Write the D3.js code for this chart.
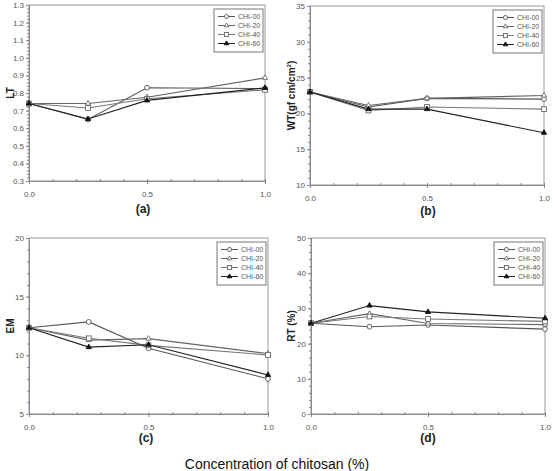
<!DOCTYPE html>
<html>
<head>
<meta charset="utf-8">
<script src="https://cdn.jsdelivr.net/npm/d3@7"></script>
<style>
    body { margin: 0; background: #fff; }
    svg { font-family: "Liberation Sans", Arial, sans-serif; }
    .axis path, .axis line { stroke: #888; }
    .axis text { fill: #555; font-size: 8px; }
</style>
</head>
<body>
<svg id="chart" width="554" height="471"></svg>
<script>
// concentration of chitosan (%)
const conc = [0.0, 0.25, 0.5, 1.0];
const seriesNames = ["CHI-00", "CHI-20", "CHI-40", "CHI-60"];
const markers = ["circle", "triangle", "square", "filled"];

// LT
const ltValues = [
    [0.74, 0.65, 0.83, 0.825],
    [0.74, 0.74, 0.776, 0.886],
    [0.74, 0.715, 0.767, 0.818],
    [0.74, 0.652, 0.758, 0.829]
];
// WT (gf cm/cm2)
const wtValues = [
    [23.0, 20.9, 22.1, 22.0],
    [23.0, 21.1, 22.1, 22.5],
    [23.0, 20.4, 20.9, 20.6],
    [23.0, 20.6, 20.6, 17.3]
];
// EM
const emValues = [
    [12.35, 12.85, 10.6, 8.0],
    [12.35, 11.3, 11.42, 10.15],
    [12.35, 11.45, 10.85, 10.03],
    [12.35, 10.7, 10.9, 8.33]
];
// RT (%)
const rtValues = [
    [25.8, 24.8, 25.3, 24.1],
    [25.8, 28.5, 25.7, 25.4],
    [25.8, 27.7, 27.0, 26.3],
    [25.8, 30.8, 29.0, 27.2]
];

const xTicks = [0, 0.5, 1.0];
const lineColors = ["#555", "#666", "#777", "#222"];

const panels = [
    {data: ltValues, yDomain: [0.3, 1.3], yMajor: 0.1, yMinor: 0.02, fmt: d3.format(".1f"),
        label: "LT", tag: "(a)", box: {left: 29, right: 265, top: 5, bottom: 181}, titleX: 10, tagX: 143, tagY: 213},
    {data: wtValues, yDomain: [10, 35], yMajor: 5, yMinor: 1, fmt: d3.format("d"),
        label: "WT(gf cm/cm", sup: "2", labelEnd: ")", tag: "(b)", box: {left: 310, right: 544, top: 6, bottom: 185}, titleX: 291, tagX: 428, tagY: 215},
    {data: emValues, yDomain: [5, 20], yMajor: 5, yMinor: 1, fmt: d3.format("d"),
        label: "EM", tag: "(c)", box: {left: 29, right: 268, top: 238, bottom: 414}, titleX: 10, tagX: 146, tagY: 442},
    {data: rtValues, yDomain: [0, 50], yMajor: 10, yMinor: 2, fmt: d3.format("d"),
        label: "RT (%)", tag: "(d)", box: {left: 311, right: 545, top: 238, bottom: 414}, titleX: 291, tagX: 428, tagY: 442}
];

const svg = d3.select("#chart");

function drawMarker(g, type, cx, cy, k = 1) {
    if (type === "circle") {
        g.append("circle").attr("cx", cx).attr("cy", cy).attr("r", 2.4 * k)
            .attr("fill", "#fff").attr("stroke", "#555").attr("stroke-width", 0.9);
    } else if (type === "square") {
        g.append("rect").attr("x", cx - 2.4 * k).attr("y", cy - 2.4 * k)
            .attr("width", 4.8 * k).attr("height", 4.8 * k)
            .attr("fill", "#fff").attr("stroke", "#666").attr("stroke-width", 0.9);
    } else {
        const sym = d3.symbol().type(d3.symbolTriangle).size(12 * k * k);
        g.append("path").attr("transform", `translate(${cx},${cy})`).attr("d", sym())
            .attr("fill", type === "filled" ? "#111" : "#fff")
            .attr("stroke", type === "filled" ? "#111" : "#666")
            .attr("stroke-width", 0.9);
    }
}

panels.forEach((p) => {
    const b = p.box;
    const x = d3.scaleLinear().domain([0, 1]).range([b.left, b.right]);
    const y = d3.scaleLinear().domain(p.yDomain).range([b.bottom, b.top]);

    // frame
    svg.append("rect")
        .attr("x", b.left).attr("y", b.top)
        .attr("width", b.right - b.left).attr("height", b.bottom - b.top)
        .attr("fill", "none").attr("stroke", "#999");

    // minor ticks
    const yMinorTicks = d3.range(p.yDomain[0], p.yDomain[1] + 1e-9, p.yMinor);
    svg.append("g").attr("class", "axis")
        .attr("transform", `translate(${b.left},0)`)
        .call(d3.axisLeft(y).tickValues(yMinorTicks).tickSize(2).tickFormat(""))
        .call(g => g.select(".domain").remove());
    svg.append("g").attr("class", "axis")
        .attr("transform", `translate(0,${b.bottom})`)
        .call(d3.axisTop(x).tickValues(d3.range(0, 1.0001, 0.1)).tickSize(2).tickFormat(""))
        .call(g => g.select(".domain").remove());

    // major axes
    const yMajorTicks = d3.range(p.yDomain[0], p.yDomain[1] + 1e-9, p.yMajor);
    svg.append("g").attr("class", "axis")
        .attr("transform", `translate(${b.left},0)`)
        .call(d3.axisLeft(y).tickValues(yMajorTicks).tickSize(3).tickSizeOuter(0).tickPadding(2).tickFormat(p.fmt));
    svg.append("g").attr("class", "axis")
        .attr("transform", `translate(0,${b.bottom})`)
        .call(d3.axisBottom(x).tickValues(xTicks).tickSize(3).tickSizeOuter(0).tickPadding(7).tickFormat(d3.format(".1f")));

    // lines
    const line = d3.line().x((d, i) => x(conc[i])).y(d => y(d));
    p.data.forEach((vals, s) => {
        svg.append("path").datum(vals)
            .attr("d", line)
            .attr("fill", "none")
            .attr("stroke", lineColors[s])
            .attr("stroke-width", 1.1);
    });
    p.data.forEach((vals, s) => {
        const g = svg.append("g");
        vals.forEach((v, i) => drawMarker(g, markers[s], x(conc[i]), y(v)));
    });

    // y label
    const yl = svg.append("text")
        .attr("transform", `translate(${p.titleX},${(b.top + b.bottom) / 2}) rotate(-90)`)
        .attr("text-anchor", "middle").attr("dy", "0.35em")
        .attr("font-size", 10).attr("font-weight", "bold").attr("fill", "#222")
        .text(p.label);
    if (p.sup) {
        yl.append("tspan").attr("font-size", 6).attr("dy", "-0.6em").text(p.sup);
        yl.append("tspan").attr("dy", "0.4em").text(p.labelEnd);
    }

    // panel tag
    svg.append("text")
        .attr("x", p.tagX).attr("y", p.tagY)
        .attr("text-anchor", "middle")
        .attr("font-size", 12).attr("font-weight", "bold").attr("fill", "#222")
        .text(p.tag);

    // legend
    const lx = b.right - 51, ly = b.top + 4;
    const lg = svg.append("g");
    lg.append("rect").attr("x", lx).attr("y", ly).attr("width", 49).attr("height", 43)
        .attr("fill", "#fff").attr("stroke", "#777");
    seriesNames.forEach((name, s) => {
        const ry = ly + 7.5 + s * 9;
        lg.append("line").attr("x1", lx + 4).attr("x2", lx + 21).attr("y1", ry).attr("y2", ry)
            .attr("stroke", lineColors[s]);
        drawMarker(lg, markers[s], lx + 12.5, ry, 0.85);
        lg.append("text").attr("x", lx + 24).attr("y", ry).attr("dy", "0.35em")
            .attr("font-size", 7).attr("fill", "#555").text(name);
    });
});

svg.append("text")
    .attr("x", 277).attr("y", 469)
    .attr("text-anchor", "middle")
    .attr("font-size", 14).attr("fill", "#111")
    .text("Concentration of chitosan (%)");
</script>
</body>
</html>
